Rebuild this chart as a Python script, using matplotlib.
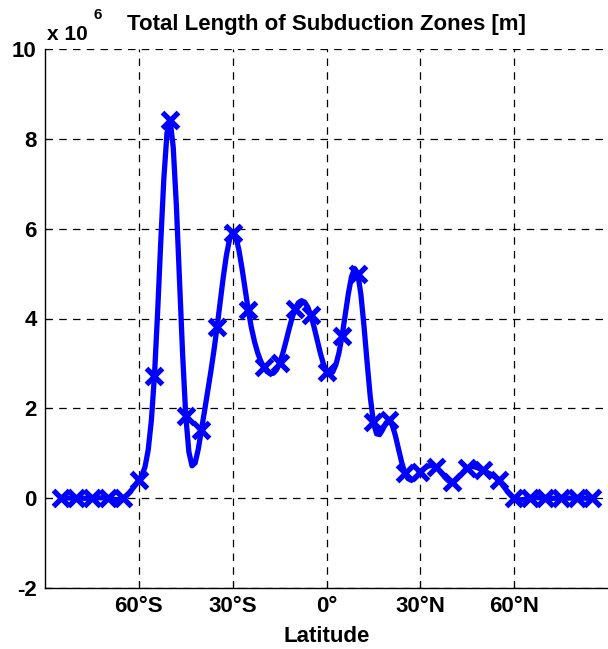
import numpy as np
import matplotlib
matplotlib.use("Agg")
import matplotlib.pyplot as plt
from matplotlib import font_manager

# Latitude bins (degrees) and total subduction-zone length per bin (x 1e6 m)
latitude = np.arange(-85, 90, 5)
length_1e6 = [0.0, 0.0, 0.0, 0.0, 0.0, 0.4, 2.73, 8.42, 1.84, 1.51,
              3.8, 5.91, 4.18, 2.91, 3.0, 4.22, 4.07, 2.82, 3.62, 5.0,
              1.69, 1.73, 0.57, 0.58, 0.69, 0.36, 0.67, 0.62, 0.4, 0.0,
              0.0, 0.0, 0.0, 0.0, 0.0]
xtick_pos = [-60, -30, 0, 30, 60]
xtick_labels = ["60°S", "30°S", "0°", "30°N", "60°N"]
ytick_pos = [-2, 0, 2, 4, 6, 8, 10]


def notaknot_spline(x, y, xq):
    """Cubic spline with not-a-knot end conditions."""
    x = np.asarray(x, float)
    y = np.asarray(y, float)
    n = len(x)
    h = np.diff(x)
    A = np.zeros((n, n))
    b = np.zeros(n)
    # not-a-knot: third derivative continuous at x[1] and x[n-2]
    A[0, 0], A[0, 1], A[0, 2] = h[1], -(h[0] + h[1]), h[0]
    A[-1, -3], A[-1, -2], A[-1, -1] = h[-1], -(h[-2] + h[-1]), h[-2]
    for i in range(1, n - 1):
        A[i, i - 1] = h[i - 1]
        A[i, i] = 2 * (h[i - 1] + h[i])
        A[i, i + 1] = h[i]
        b[i] = 6 * ((y[i + 1] - y[i]) / h[i] - (y[i] - y[i - 1]) / h[i - 1])
    M = np.linalg.solve(A, b)
    idx = np.clip(np.searchsorted(x, xq) - 1, 0, n - 2)
    t0 = xq - x[idx]
    t1 = x[idx + 1] - xq
    hi = h[idx]
    return (M[idx] * t1 ** 3 / (6 * hi) + M[idx + 1] * t0 ** 3 / (6 * hi)
            + (y[idx] / hi - M[idx] * hi / 6) * t1
            + (y[idx + 1] / hi - M[idx + 1] * hi / 6) * t0)


families = [f.name for f in font_manager.fontManager.ttflist]
fam = ["Liberation Sans Narrow", "Liberation Sans"] if "Liberation Sans Narrow" in families else ["Liberation Sans"]
plt.rcParams["font.family"] = fam
plt.rcParams["font.weight"] = "bold"

fig = plt.figure(figsize=(6.08, 6.49), dpi=100)
ax = fig.add_axes([45 / 608, 61 / 649, 563 / 608, 539 / 649])

fine_lat = np.arange(latitude[0], latitude[-1] + 1, 1.0)
smooth = notaknot_spline(latitude, length_1e6, fine_lat)

ax.plot(fine_lat, smooth, color="#0000ff", lw=3.8, solid_joinstyle="round",
        solid_capstyle="round", zorder=3)
ax.plot(latitude, length_1e6, ls="none", marker="x", ms=11.5, mew=3.8,
        color="#0000ff", zorder=4)

ax.set_xlim(-90, 90)
ax.set_ylim(-2, 10)
ax.set_xticks(xtick_pos)
ax.set_xticklabels(xtick_labels)
ax.set_yticks(ytick_pos)
ax.set_yticklabels([str(v) for v in ytick_pos])
ax.tick_params(direction="in", length=5, width=0.8, labelsize=16, pad=6)
for lab in ax.get_xticklabels() + ax.get_yticklabels():
    lab.set_fontweight("bold")

ax.grid(True, color="black", ls=(0, (6, 5)), lw=0.9)
ax.spines["top"].set_visible(False)
ax.spines["right"].set_visible(False)
ax.spines["left"].set_linewidth(1.0)
ax.spines["bottom"].set_linewidth(1.0)

ax.set_xlabel("Latitude", fontsize=16, fontweight="bold", labelpad=6)
ax.set_title("Total Length of Subduction Zones [m]", fontsize=16,
             fontweight="bold", pad=14)
fig.text(47 / 608, 1 - 40 / 649, "x 10", fontsize=15, fontweight="bold",
         ha="left", va="baseline")
fig.text(93 / 608, 1 - 19 / 649, "6", fontsize=11, fontweight="bold",
         ha="left", va="baseline")

fig.savefig("out.png", dpi=100, facecolor="white")
